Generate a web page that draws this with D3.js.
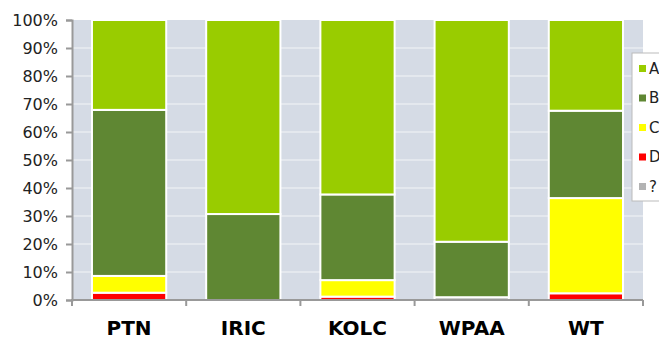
<!DOCTYPE html>
<html>
<head>
<meta charset="utf-8">
<script src="https://cdn.jsdelivr.net/npm/d3@7"></script>
<style>
  body { margin: 0; background: #fff; }
  svg { display: block; font-family: "DejaVu Sans", Verdana, sans-serif; }
</style>
</head>
<body>
<div id="chart"></div>
<script>
// categories and stacked shares (percent)
var categories = ["PTN", "IRIC", "KOLC", "WPAA", "WT"];
var seriesNames = ["?", "D", "C", "B", "A"];   // bottom to top
var valQ = [0, 0, 0, 1, 0];
var valD = [2.6, 0, 1.2, 0, 2.4];
var valC = [6.0, 0, 5.9, 0, 34.0];
var valB = [59.3, 30.7, 30.6, 19.8, 31.2];
var valA = [32.1, 69.3, 62.3, 79.2, 32.4];
var yTicks = [0, 10, 20, 30, 40, 50, 60, 70, 80, 90, 100];
var legendNames = ["A", "B", "C", "D", "?"];

var colors = {"A": "#99cc00", "B": "#5f8733", "C": "#ffff00", "D": "#ff0000", "?": "#b3b3b3"};
var values = {"?": valQ, "D": valD, "C": valC, "B": valB, "A": valA};

var W = 659, H = 338;
var margin = {top: 20, left: 72, right: 16, bottom: 38};
var width = W - margin.left - margin.right;
var height = H - margin.top - margin.bottom;

var svg = d3.select('#chart').append('svg')
    .attr('width', W)
    .attr('height', H);

var g = svg.append('g')
    .attr('transform', 'translate(' + margin.left + ',' + margin.top + ')');

var x = d3.scaleBand()
    .domain(categories)
    .range([0, width])
    .paddingInner(0.35)
    .paddingOuter(0.175);

var xb = d3.scaleLinear().domain([0, categories.length]).range([0, width]);

var y = d3.scaleLinear()
    .domain([0, 100])
    .range([height, 0]);

// plot background
g.append('rect')
    .attr('width', width)
    .attr('height', height)
    .attr('fill', '#d5dbe5');

// grid
g.selectAll('.grid')
    .data(yTicks.slice(1, -1)).enter()
    .append('line')
    .attr('x1', 0).attr('x2', width)
    .attr('y1', d => y(d)).attr('y2', d => y(d))
    .attr('stroke', '#e9ecf1')
    .attr('stroke-width', 1.5);

// stacked bars
var table = categories.map(function(c, i) {
    var row = {cat: c};
    seriesNames.forEach(s => row[s] = values[s][i]);
    return row;
});
var stack = d3.stack().keys(seriesNames)(table);

stack.forEach(function(layer) {
    g.selectAll(null)
        .data(layer.filter(d => d[1] - d[0] > 0)).enter()
        .append('rect')
        .attr('x', d => x(d.data.cat))
        .attr('width', x.bandwidth())
        .attr('y', d => y(d[1]))
        .attr('height', d => y(d[0]) - y(d[1]))
        .attr('fill', colors[layer.key])
        .attr('stroke', '#fff')
        .attr('stroke-width', 2);
});

// y axis
var yAxis = g.append('g')
    .call(d3.axisLeft(y).tickValues(yTicks).tickFormat(d => d + '%').tickSize(6).tickPadding(8));
yAxis.select('.domain').attr('stroke', '#999').attr('stroke-width', 2);
yAxis.selectAll('.tick line').attr('stroke', '#999').attr('stroke-width', 2);
yAxis.selectAll('text').attr('font-size', 16).attr('fill', '#222')
    .attr('font-family', '"DejaVu Sans", Verdana, sans-serif');

// x axis
var xAxisG = g.append('g').attr('transform', 'translate(0,' + height + ')');
xAxisG.append('line')
    .attr('x1', -1).attr('x2', width)
    .attr('stroke', '#999').attr('stroke-width', 2);
xAxisG.selectAll('.xt')
    .data(d3.range(categories.length + 1)).enter()
    .append('line')
    .attr('x1', d => xb(d)).attr('x2', d => xb(d))
    .attr('y1', 0).attr('y2', 6)
    .attr('stroke', '#999').attr('stroke-width', 2);
xAxisG.selectAll('.xl')
    .data(categories).enter()
    .append('text')
    .attr('x', d => x(d) + x.bandwidth() / 2)
    .attr('y', 35)
    .attr('text-anchor', 'middle')
    .attr('font-size', 20)
    .attr('font-weight', 'bold')
    .attr('fill', '#000')
    .text(d => d);

// legend
var legend = svg.append('g').attr('transform', 'translate(632,53)');
legend.append('rect')
    .attr('width', 40).attr('height', 148)
    .attr('fill', '#fff')
    .attr('stroke', '#bbb')
    .attr('stroke-width', 1);
legendNames.forEach(function(n, i) {
    var ly = 15 + i * 29.5;
    legend.append('rect')
        .attr('x', 7).attr('y', ly - 3)
        .attr('width', 7).attr('height', 7)
        .attr('fill', colors[n]);
    legend.append('text')
        .attr('x', 17).attr('y', ly + 1)
        .attr('dominant-baseline', 'middle')
        .attr('font-size', 15)
        .attr('fill', '#222')
        .text(n);
});
</script>
</body>
</html>
